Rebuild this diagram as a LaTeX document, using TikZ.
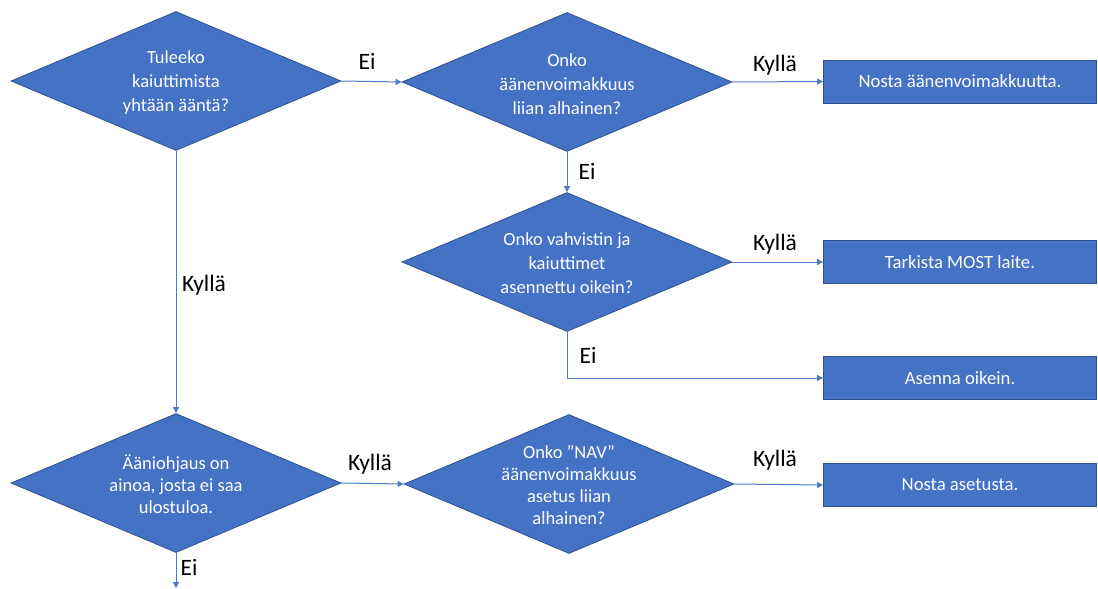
\documentclass[tikz,border=0pt]{standalone}
\usepackage{fontspec}
\setmainfont{Carlito}
\usetikzlibrary{shapes.geometric,arrows.meta}
\definecolor{shapefill}{HTML}{4472C4}
\definecolor{shapeline}{HTML}{2F528F}
\definecolor{flowline}{HTML}{4A7BCB}
\tikzset{
  decision/.style={diamond, draw=shapeline, fill=shapefill, line width=0.8pt,
    minimum width=330pt, minimum height=139pt, inner sep=0pt},
  dectext/.style={text=white, align=center, inner sep=0pt,
    font=\fontsize{18.5}{24}\selectfont},
  dectextb/.style={dectext, font=\fontsize{18.5}{22.3}\selectfont},
  actionbox/.style={rectangle, draw=shapeline, fill=shapefill, line width=0.9pt,
    minimum width=273pt, minimum height=43pt, inner sep=0pt, text=white,
    font=\fontsize{18.7}{23}\selectfont},
  flow/.style={draw=flowline, line width=1pt,
    -{Triangle[length=6pt,width=6pt]}},
  answer/.style={anchor=base, inner sep=0pt, text=black,
    font=\fontsize{23.5}{28}\selectfont}
}
\begin{document}
\begin{tikzpicture}[x=1pt,y=-1pt]
\useasboundingbox (0,0) rectangle (1098,589);

% decisions
\node[decision] (d1) at (176,81) {};
\node[dectext] (t1) at (176,83) {Tuleeko\\kaiuttimista\\yhtään ääntä?};
\node[decision] (d2) at (567,82) {};
\node[dectext] (t2) at (567,84) {Onko\\äänenvoimakkuus\\liian alhainen?};
\node[decision] (d3) at (567,262) {};
\node[dectext] (t3) at (567,263) {Onko vahvistin ja\\kaiuttimet\\asennettu oikein?};
\node[decision] (d4) at (176,483) {};
\node[dectextb] (t4) at (176,484) {Ääniohjaus on\\ainoa, josta ei saa\\ulostuloa.};
\node[decision] (d5) at (569,484) {};
\node[dectextb] (t5) at (569,485) {Onko ”NAV”\\äänenvoimakkuus\\asetus liian\\alhainen?};

% actions
\node[actionbox] (b1) at (960,81.5) {Nosta äänenvoimakkuutta.};
\node[actionbox] (b2) at (960,262) {Tarkista MOST laite.};
\node[actionbox] (b3) at (960,378) {Asenna oikein.};
\node[actionbox] (b4) at (960,485) {Nosta asetusta.};

\coordinate (out) at (176,588);

% connectors
\draw[flow] (d1.east) -- (d2.west);
\draw[flow] (d2.east) -- (b1.west);
\draw[flow] (d2.south) -- (d3.north);
\draw[flow] (d3.east) -- (b2.west);
\draw[flow] (d3.south) |- (b3.west);
\draw[flow] (d1.south) -- (d4.north);
\draw[flow] (d4.east) -- (d5.west);
\draw[flow] (d5.east) -- (b4.west);
\draw[flow] (d4.south) -- (out);

% answers
\node[answer] (a1) at (367,69) {Ei};
\node[answer] (a2) at (775,71) {Kyllä};
\node[answer] (a3) at (587,179) {Ei};
\node[answer] (a4) at (775,250) {Kyllä};
\node[answer] (a5) at (588,363) {Ei};
\node[answer] (a6) at (204,291) {Kyllä};
\node[answer] (a7) at (370,470) {Kyllä};
\node[answer] (a8) at (775,466) {Kyllä};
\node[answer] (a9) at (189,575) {Ei};
\end{tikzpicture}
\end{document}
